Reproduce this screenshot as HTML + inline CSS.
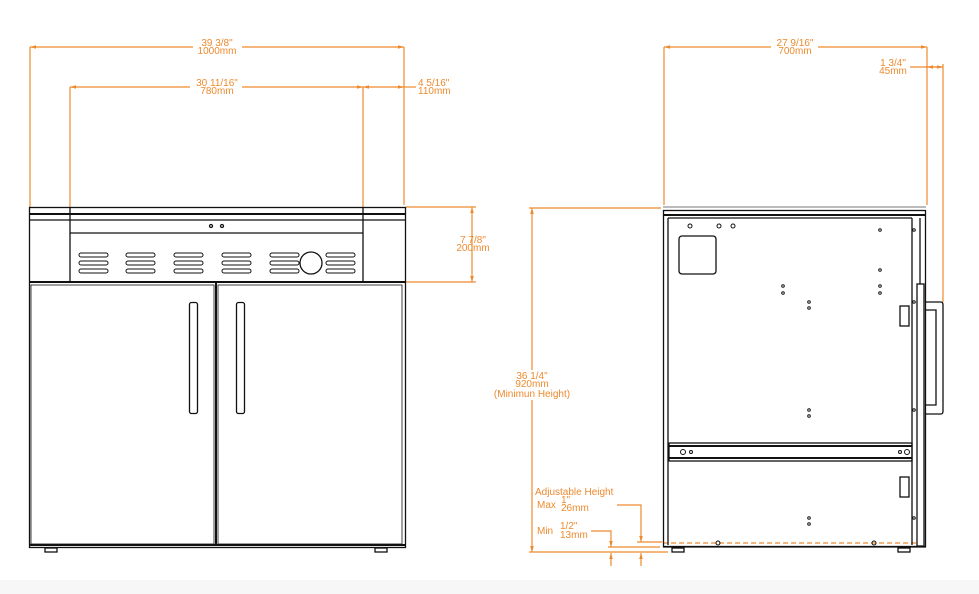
<!DOCTYPE html>
<html><head><meta charset="utf-8"><style>
html,body{margin:0;padding:0;background:#fff;width:979px;height:594px;overflow:hidden}
svg{display:block}
text{font-family:"Liberation Sans",sans-serif;font-size:10px;fill:#ee8a2e}
</style></head><body>
<svg width="979" height="594" viewBox="0 0 979 594" xmlns="http://www.w3.org/2000/svg">
<defs>
<marker id="a" viewBox="0 0 10 10" refX="10" refY="5" markerWidth="7" markerHeight="5" orient="auto-start-reverse"><path d="M0,2 L10,5 L0,8z" fill="#ee8a2e"/></marker>
</defs>
<rect x="0" y="580" width="979" height="14" fill="#f7f7f7"/>
<g stroke="#ee8a2e" stroke-width="1.2" fill="none">
<!-- left dims -->
<line x1="30" y1="47" x2="30" y2="207"/><line x1="404" y1="47" x2="404" y2="205"/>
<line x1="30" y1="47" x2="193" y2="47" marker-start="url(#a)"/><line x1="242" y1="47" x2="404" y2="47" marker-end="url(#a)"/>
<line x1="70" y1="87" x2="70" y2="207"/><line x1="363" y1="87" x2="363" y2="207"/>
<line x1="70" y1="87" x2="190" y2="87" marker-start="url(#a)"/><line x1="242" y1="87" x2="363" y2="87" marker-end="url(#a)"/>
<line x1="363" y1="87" x2="404" y2="87" marker-start="url(#a)" marker-end="url(#a)"/><line x1="404" y1="87" x2="416" y2="87"/>
<line x1="406" y1="207" x2="476" y2="207"/><line x1="406" y1="282" x2="476" y2="282"/>
<line x1="472" y1="207" x2="472" y2="282" marker-start="url(#a)" marker-end="url(#a)"/>
<!-- right dims -->
<line x1="664" y1="47" x2="664" y2="205"/><line x1="927" y1="47" x2="927" y2="205"/>
<line x1="664" y1="47" x2="771" y2="47" marker-start="url(#a)"/><line x1="818" y1="47" x2="927" y2="47" marker-end="url(#a)"/>
<line x1="910" y1="67" x2="943" y2="67"/><line x1="927" y1="67" x2="943" y2="67" marker-start="url(#a)" marker-end="url(#a)"/>
<line x1="943" y1="64" x2="943" y2="302"/>
<line x1="529" y1="208" x2="661" y2="208"/><line x1="529" y1="552" x2="668" y2="552"/>
<line x1="532" y1="208" x2="532" y2="370" marker-start="url(#a)"/><line x1="532" y1="400" x2="532" y2="552" marker-end="url(#a)"/>
<polyline points="617,505 641,505 641,542" marker-end="url(#a)"/>
<polyline points="591,531 611,531 611,547" marker-end="url(#a)"/>
<line x1="637" y1="542" x2="662" y2="542"/><line x1="608" y1="547" x2="660" y2="547"/>
<line x1="611" y1="566" x2="611" y2="553" marker-end="url(#a)"/><line x1="641" y1="566" x2="641" y2="553" marker-end="url(#a)"/>
<line x1="663" y1="543" x2="917" y2="543" stroke-dasharray="5,3"/>
</g>
<text x="217" y="46" text-anchor="middle">39 3/8"</text><text x="217" y="54" text-anchor="middle">1000mm</text>
<text x="217" y="86" text-anchor="middle">30 11/16"</text><text x="217" y="94" text-anchor="middle">780mm</text>
<text x="418" y="86">4 5/16"</text><text x="418" y="94">110mm</text>
<text x="473" y="243" text-anchor="middle">7 7/8"</text><text x="473" y="251" text-anchor="middle">200mm</text>
<text x="795" y="46" text-anchor="middle">27 9/16"</text><text x="795" y="54" text-anchor="middle">700mm</text>
<text x="893" y="66" text-anchor="middle">1 3/4"</text><text x="893" y="74" text-anchor="middle">45mm</text>
<text x="532" y="379" text-anchor="middle">36 1/4"</text><text x="532" y="387" text-anchor="middle">920mm</text><text x="532" y="397" text-anchor="middle">(Minimun Height)</text>
<text x="535" y="495">Adjustable Height</text>
<text x="537" y="508">Max</text><text x="561" y="503">1"</text><text x="561" y="511">26mm</text>
<text x="537" y="534">Min</text><text x="560" y="529">1/2"</text><text x="560" y="538">13mm</text>
<!-- left cabinet -->
<g stroke="#111" fill="none" stroke-width="1.3">
<rect x="29.5" y="207.5" width="376" height="340"/>
<line x1="29" y1="214" x2="406" y2="214" stroke-width="2"/>
<line x1="30" y1="220" x2="405" y2="220"/>
<line x1="70" y1="207" x2="70" y2="282"/><line x1="363" y1="207" x2="363" y2="282"/>
<line x1="70" y1="233" x2="363" y2="233"/>
<line x1="29" y1="282" x2="406" y2="282" stroke-width="2"/>
<line x1="216" y1="283" x2="216" y2="545" stroke-width="2"/>
<rect x="31" y="285" width="183" height="259" stroke-width="0.8"/>
<rect x="218" y="285" width="184" height="259" stroke-width="0.8"/>
<rect x="189.5" y="302.5" width="8" height="111" rx="2"/><rect x="236.5" y="302.5" width="8" height="111" rx="2"/>
<line x1="29" y1="545" x2="406" y2="545" stroke-width="2"/>
<rect x="45" y="548" width="12" height="4"/><rect x="375" y="548" width="12" height="4"/>
<circle cx="211" cy="226" r="1.5"/><circle cx="222" cy="226" r="1.5"/>
<circle cx="311" cy="263" r="11"/>
</g>
<g stroke="#111" fill="none" stroke-width="1">
<g id="v"><rect x="79" y="253" width="29" height="4" rx="2"/><rect x="79" y="261" width="29" height="4" rx="2"/><rect x="79" y="269" width="29" height="4" rx="2"/></g>
<use href="#v" transform="translate(47,0)"/><use href="#v" transform="translate(95,0)"/><use href="#v" transform="translate(143,0)"/><use href="#v" transform="translate(191,0)"/><use href="#v" transform="translate(247,0)"/>
</g>
<!-- right cabinet -->
<line x1="663" y1="207" x2="926" y2="207" stroke="#bbb" stroke-width="2"/>
<g stroke="#111" fill="none" stroke-width="1.3">
<rect x="663.5" y="210.5" width="262" height="336"/>
<line x1="663" y1="215" x2="926" y2="215" stroke-width="2"/>
<line x1="668" y1="218" x2="912" y2="218"/>
<line x1="668" y1="218" x2="668" y2="545"/>
<line x1="912" y1="218" x2="912" y2="545"/>
<rect x="917" y="284" width="7" height="262"/>
<line x1="920" y1="218" x2="920" y2="284"/>
<path d="M925,302 H941 Q943,302 943,305 V411 Q943,414 941,414 H925"/>
<path d="M925,310 H936 V405 H925"/>
<rect x="679" y="236" width="37" height="38" rx="3"/>
<rect x="669" y="443" width="243" height="18"/>
<line x1="669" y1="446" x2="912" y2="446" stroke-width="2"/><line x1="669" y1="458" x2="912" y2="458" stroke-width="2"/>
<rect x="900" y="306" width="9" height="20"/><rect x="900" y="477" width="9" height="20"/>
<line x1="663" y1="547" x2="926" y2="547"/>
<rect x="672" y="548" width="12" height="4"/><rect x="898" y="548" width="12" height="4"/>
</g>
<g fill="none" stroke="#111" stroke-width="1">
<circle cx="683" cy="452" r="2.5"/><circle cx="691" cy="452" r="1.5"/><circle cx="900" cy="452" r="1.5"/><circle cx="907" cy="452" r="2.5"/>
<circle cx="690" cy="226" r="2"/><circle cx="719" cy="226" r="2"/><circle cx="733" cy="226" r="2"/>
<circle cx="783" cy="286" r="1.3"/><circle cx="783" cy="293" r="1.3"/><circle cx="809" cy="302" r="1.3"/><circle cx="809" cy="308" r="1.3"/>
<circle cx="880" cy="230" r="1.3"/><circle cx="880" cy="270" r="1.3"/><circle cx="880" cy="286" r="1.3"/><circle cx="880" cy="293" r="1.3"/>
<circle cx="809" cy="410" r="1.3"/><circle cx="809" cy="416" r="1.3"/><circle cx="809" cy="518" r="1.3"/><circle cx="809" cy="524" r="1.3"/>
<circle cx="914" cy="230" r="1.3"/><circle cx="914" cy="302" r="1.3"/><circle cx="914" cy="410" r="1.3"/><circle cx="914" cy="518" r="1.3"/>
<circle cx="718" cy="543" r="2"/><circle cx="874" cy="543" r="2"/>
</g>
</svg>
</body></html>
